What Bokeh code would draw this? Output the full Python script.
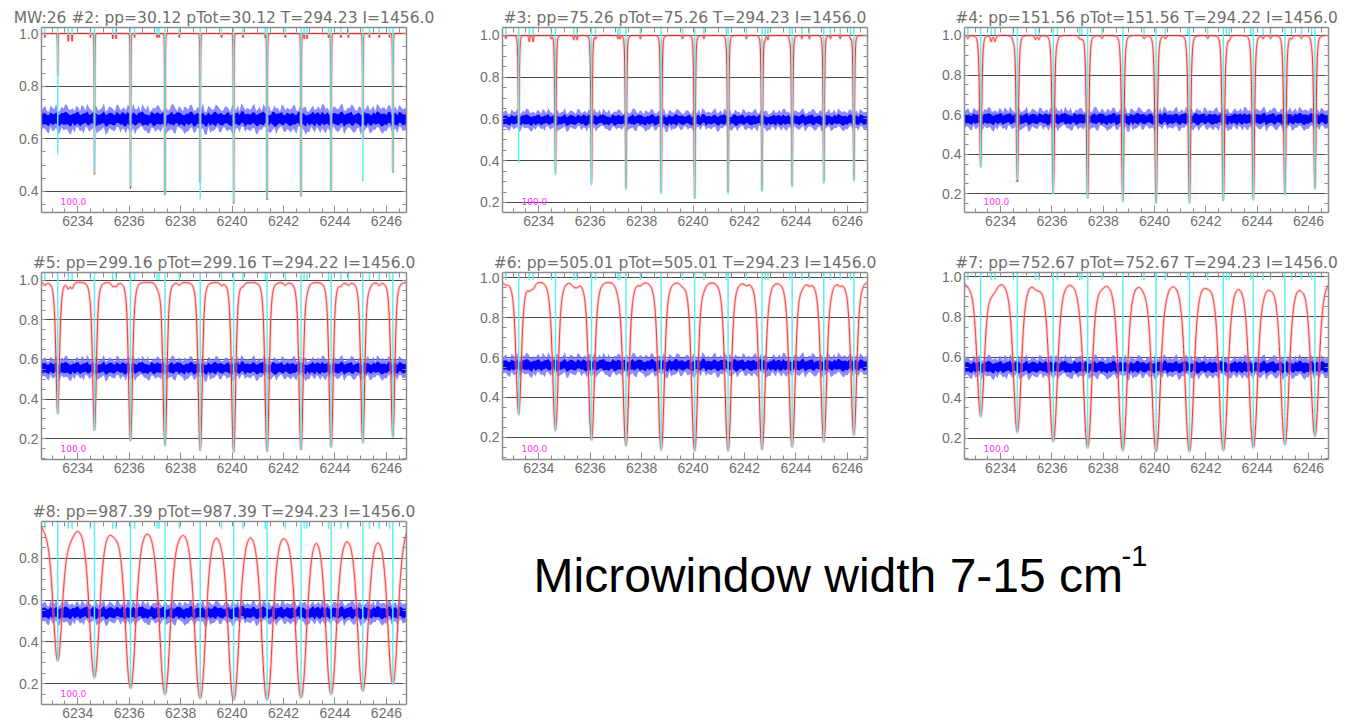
import numpy as np
from bokeh.plotting import figure
from bokeh.models import Range1d, FixedTicker, LinearAxis, Label, Grid, PrintfTickFormatter
from bokeh.layouts import column, row
from bokeh.embed import file_html
from bokeh.resources import INLINE

# ---------------- data ----------------
x_start, x_end = 6232.59, 6246.78
x_tick_values = [6234, 6236, 6238, 6240, 6242, 6244, 6246]
y_tick_values = [0.2, 0.4, 0.6, 0.8, 1.0]

# strong line centres (cm-1)
main_lines = [6233.22, 6234.65, 6236.05, 6237.39, 6238.76, 6240.06,
              6241.36, 6242.68, 6243.85, 6245.08, 6246.25]
# weak line centres (short cyan ticks at the top)
weak_lines = [6232.72, 6233.63, 6233.78, 6234.49, 6235.36, 6235.49, 6236.21,
              6237.08, 6237.16, 6237.95, 6239.59, 6240.42, 6241.29, 6242.07,
              6242.80, 6242.91, 6243.75, 6244.23, 6244.52, 6245.34, 6245.72, 6246.12]
weak_tau = [0.015, 0.03, 0.03, 0.015, 0.02, 0.02, 0.015, 0.015, 0.015, 0.015, 0.015,
            0.015, 0.015, 0.015, 0.02, 0.02, 0.015, 0.015, 0.015, 0.015, 0.015, 0.015]

panel_names = ["MW:26 #2:", "#3:", "#4:", "#5:", "#6:", "#7:", "#8:"]
pp_values = [30.12, 75.26, 151.56, 299.16, 505.01, 752.67, 987.39]
ptot_values = [30.12, 75.26, 151.56, 299.16, 505.01, 752.67, 987.39]
temperatures = [294.23, 294.23, 294.22, 294.22, 294.23, 294.23, 294.23]
intensities = [1456.0, 1456.0, 1456.0, 1456.0, 1456.0, 1456.0, 1456.0]
scale_label = "100.0"

y_lows = [0.32, 0.152, 0.106, 0.094, 0.089, 0.095, 0.101]
y_highs = [1.023, 1.038, 1.04, 1.04, 1.027, 1.02, 0.975]

# model (red) line half widths and continuum per panel
line_halfwidth = [0.014, 0.035, 0.06, 0.10, 0.15, 0.21, 0.27]
continuum = [1.0, 1.0, 1.0, 0.992, 0.985, 0.985, 0.985]

# red model minima at each strong line
red_min_2 = [0.84, 0.465, 0.41, 0.385, 0.43, 0.355, 0.365, 0.38, 0.40, 0.60, 0.47]
red_min_3 = [0.55, 0.34, 0.29, 0.27, 0.25, 0.22, 0.25, 0.26, 0.28, 0.30, 0.31]
red_min_4 = [0.34, 0.26, 0.205, 0.18, 0.165, 0.155, 0.155, 0.165, 0.175, 0.20, 0.23]
red_min_5 = [0.327, 0.242, 0.19, 0.167, 0.141, 0.133, 0.136, 0.145, 0.158, 0.18, 0.208]
red_min_6 = [0.317, 0.237, 0.187, 0.157, 0.137, 0.132, 0.133, 0.14, 0.153, 0.178, 0.212]
red_min_7 = [0.31, 0.23, 0.185, 0.155, 0.14, 0.135, 0.135, 0.14, 0.155, 0.17, 0.21]
red_min_8 = [0.31, 0.23, 0.179, 0.15, 0.131, 0.123, 0.123, 0.134, 0.15, 0.166, 0.198]
red_mins = [red_min_2, red_min_3, red_min_4, red_min_5, red_min_6, red_min_7, red_min_8]

# cyan minima at each strong line
cyan_min_2 = [0.54, 0.47, 0.42, 0.385, 0.37, 0.36, 0.37, 0.38, 0.40, 0.44, 0.47]
cyan_min_3 = [0.39, 0.33, 0.28, 0.26, 0.24, 0.22, 0.24, 0.25, 0.27, 0.29, 0.30]
cyan_min_4 = [0.33, 0.27, 0.20, 0.174, 0.157, 0.149, 0.15, 0.165, 0.165, 0.19, 0.22]
cyan_min_5 = [0.32, 0.24, 0.19, 0.16, 0.14, 0.13, 0.135, 0.145, 0.155, 0.175, 0.205]
cyan_min_6 = [0.31, 0.23, 0.185, 0.155, 0.135, 0.13, 0.13, 0.14, 0.15, 0.175, 0.21]
cyan_min_7 = [0.30, 0.225, 0.18, 0.15, 0.135, 0.13, 0.13, 0.135, 0.15, 0.165, 0.205]
cyan_min_8 = [0.305, 0.225, 0.175, 0.145, 0.128, 0.12, 0.12, 0.13, 0.145, 0.162, 0.195]
cyan_mins = [cyan_min_2, cyan_min_3, cyan_min_4, cyan_min_5, cyan_min_6, cyan_min_7, cyan_min_8]

# measured (blue) band: level and spread per panel
blue_level = [0.675, 0.595, 0.578, 0.556, 0.562, 0.552, 0.539]
blue_spread = [0.06, 0.058, 0.065, 0.068, 0.066, 0.066, 0.066]
# band edge excursions (fraction of spread), read along the band
env_hi = [0.58, 0.83, 0.47, 0.71, 0.95, 0.52, 0.66, 0.88, 0.61, 0.49, 0.77, 0.92, 0.55, 0.69, 0.45, 0.81, 0.63, 1.00, 0.57, 0.74,
          0.50, 0.86, 0.64, 0.53, 0.79, 0.97, 0.60, 0.48, 0.72, 0.89, 0.56, 0.67, 0.84, 0.46, 0.75, 0.62, 0.93, 0.51, 0.70, 0.80,
          0.59, 0.87, 0.54, 0.68, 0.99, 0.47, 0.73, 0.61, 0.85, 0.52, 0.78, 0.65, 0.91, 0.56, 0.48, 0.82, 0.70, 0.58, 0.96, 0.63,
          0.50, 0.76, 0.88, 0.55, 0.67, 0.45, 0.83, 0.72, 0.60, 0.94, 0.53, 0.69, 0.80, 0.49, 0.86, 0.64, 0.57, 0.90, 0.71, 0.46,
          0.79, 0.62, 0.98, 0.54, 0.68, 0.84, 0.51, 0.75, 0.59, 0.92, 0.66, 0.48, 0.81, 0.73, 0.56, 0.87, 0.63, 0.50, 0.77, 0.69]
env_lo = [0.72, 0.51, 0.88, 0.63, 0.46, 0.79, 0.94, 0.57, 0.68, 0.83, 0.49, 0.75, 0.99, 0.60, 0.86, 0.53, 0.70, 0.47, 0.81, 0.64,
          0.92, 0.56, 0.77, 0.89, 0.50, 0.66, 0.84, 0.97, 0.58, 0.45, 0.73, 0.87, 0.61, 0.79, 0.52, 0.95, 0.67, 0.82, 0.48, 0.71,
          0.90, 0.55, 0.76, 0.62, 0.47, 0.85, 0.59, 0.93, 0.69, 0.54, 0.80, 0.46, 0.74, 0.88, 1.00, 0.57, 0.65, 0.83, 0.51, 0.78,
          0.96, 0.60, 0.49, 0.86, 0.70, 0.91, 0.56, 0.64, 0.81, 0.53, 0.89, 0.74, 0.45, 0.68, 0.58, 0.84, 0.95, 0.62, 0.50, 0.77,
          0.66, 0.87, 0.52, 0.73, 0.92, 0.59, 0.80, 0.48, 0.69, 0.55, 0.85, 0.98, 0.63, 0.71, 0.86, 0.54, 0.79, 0.90, 0.61, 0.67]

caption_main = "Microwindow width 7-15 cm"
caption_sup = "-1"

# ---------------- layout constants ----------------
cols = [(41, 365, 54), (42, 365, 55), (42, 364, 22)]
rows_ = [(27, 185, 33), (27, 187, 31), (31, 183, 18)]
positions = [(0, 0), (0, 1), (0, 2), (1, 0), (1, 1), (1, 2), (2, 0)]

GRAY = "#8c8c8c"
TXT = "#6e6e6e"
CYAN = "#5ef0f0"


def profile(dx, g):
    return (1.0 + (dx / g) ** 2) ** -2.0


def model_curve(x, k):
    g = line_halfwidth[k]
    c = np.array(main_lines)
    wc = np.array(weak_lines)
    wt = np.array(weak_tau)
    target = -np.log(np.array(red_mins[k]) / continuum[k])
    weak_at = (wt[None, :] * profile(c[:, None] - wc[None, :], g)).sum(axis=1)
    M = profile(c[:, None] - c[None, :], g)
    tau = np.linalg.solve(M, target - weak_at)
    tau = np.clip(tau, 0.005, None)
    tot = (tau[None, :] * profile(x[:, None] - c[None, :], g)).sum(axis=1)
    tot += (wt[None, :] * profile(x[:, None] - wc[None, :], g)).sum(axis=1)
    return continuum[k] * np.exp(-tot)


def style_axis(ax, major_in, minor_in):
    ax.axis_line_color = GRAY
    ax.axis_line_width = 1.5
    ax.major_tick_line_color = GRAY
    ax.minor_tick_line_color = GRAY
    ax.major_tick_in = major_in
    ax.major_tick_out = 0
    ax.minor_tick_in = minor_in
    ax.minor_tick_out = 0
    ax.major_label_text_font = "Liberation Sans"
    ax.major_label_text_font_size = "14px"
    ax.major_label_text_color = TXT
    ax.major_label_standoff = 3


def make_panel(k):
    r, cidx = positions[k]
    bl, fw, br = cols[cidx]
    bt, fh, bb = rows_[r]
    y0, y1 = y_lows[k], y_highs[k]
    p = figure(width=bl + fw + br, height=bt + fh + bb,
               x_range=Range1d(x_start, x_end), y_range=Range1d(y0, y1),
               output_backend="svg", toolbar_location=None,
               x_axis_type=None, y_axis_type=None,
               min_border_left=bl, min_border_right=br,
               min_border_top=bt, min_border_bottom=bb)
    p.outline_line_color = None
    p.background_fill_color = "white"
    p.border_fill_color = "white"

    x_minor = list(np.arange(6232.5, 6247.01, 0.5))
    y_minor = list(np.arange(0.05, 1.101, 0.05))
    # labelled axes
    ax = LinearAxis(ticker=FixedTicker(ticks=x_tick_values, minor_ticks=x_minor))
    style_axis(ax, 7, 4)
    p.add_layout(ax, "below")
    ay = LinearAxis(ticker=FixedTicker(ticks=y_tick_values, minor_ticks=y_minor),
                    formatter=PrintfTickFormatter(format="%.1f"))
    style_axis(ay, 0, 4)
    p.add_layout(ay, "left")
    # tick-only axes on the top and right
    at = LinearAxis(ticker=FixedTicker(ticks=[], minor_ticks=x_minor))
    style_axis(at, 0, 5)
    at.major_label_standoff = 0
    p.add_layout(at, "above")
    ar = LinearAxis(ticker=FixedTicker(ticks=[], minor_ticks=y_minor))
    style_axis(ar, 0, 4)
    ar.major_label_standoff = 0
    p.add_layout(ar, "right")
    p.add_layout(Grid(dimension=1, ticker=FixedTicker(ticks=y_tick_values),
                      grid_line_color="#4a4a4a", grid_line_width=1))

    # title
    p.title.text = (f"{panel_names[k]} pp={pp_values[k]:.2f} pTot={ptot_values[k]:.2f} "
                    f"T={temperatures[k]:.2f} I={intensities[k]:.1f}")
    p.title.align = "center"
    p.title.text_font = "DejaVu Sans"
    p.title.text_font_size = "15.5px"
    p.title.text_font_style = "normal"
    p.title.text_color = TXT
    p.title.standoff = 2

    # measured spectrum band (blue)
    eh = np.array(env_hi)
    el = np.array(env_lo)
    up_edge = np.ravel(np.column_stack([eh, el]))
    lo_edge = np.ravel(np.column_stack([el[::-1], eh]))
    xb = np.linspace(x_start, x_end, len(up_edge))
    lvl, sp = blue_level[k], blue_spread[k]
    p.varea(x=xb, y1=lvl - sp * lo_edge, y2=lvl + sp * up_edge, fill_color="#6e6eff", fill_alpha=0.8)
    p.varea(x=xb, y1=lvl - 0.5 * sp * up_edge[::-1], y2=lvl + 0.5 * sp * lo_edge[::-1], fill_color="#0000ff")

    # model (red)
    x = np.linspace(x_start, x_end, 6000)
    t = model_curve(x, k)
    p.line(x, t, line_color="#ff9c9c", line_width=3, line_alpha=0.45)
    p.line(x, t, line_color="#f02828", line_width=1)

    # cyan lines
    p.segment(x0=main_lines, y0=[y1] * len(main_lines), x1=main_lines, y1=cyan_mins[k],
              line_color=CYAN, line_width=1.5)
    tick_bottom = y1 - 0.04 * (y1 - y0)
    p.segment(x0=weak_lines, y0=[y1] * len(weak_lines), x1=weak_lines,
              y1=[tick_bottom] * len(weak_lines), line_color=CYAN, line_width=1.5)

    ppu = fh / (y1 - y0)
    p.add_layout(Label(x=6233.33, y=y0 + 11.0 / ppu, text=scale_label, text_font="DejaVu Sans",
                       text_font_size="9px", text_color="#ff30ff", text_baseline="middle"))
    return p


panels = [make_panel(k) for k in range(7)]

# caption panel
tw, th = 890, 232
ptxt = figure(width=tw, height=th, x_range=Range1d(0, tw), y_range=Range1d(0, th),
              output_backend="svg", toolbar_location=None, x_axis_type=None, y_axis_type=None,
              min_border=0, title_location=None)
ptxt.outline_line_color = None
ptxt.xgrid.visible = False
ptxt.ygrid.visible = False
ptxt.add_layout(Label(x=73, y=th - 68, text=caption_main, text_font="Liberation Sans",
                      text_font_size="48px", text_color="black", text_baseline="alphabetic"))
ptxt.add_layout(Label(x=661, y=th - 31, text=caption_sup, text_font="Liberation Sans",
                      text_font_size="29px", text_color="black", text_baseline="top"))

layout = column(row(panels[0], panels[1], panels[2]),
                row(panels[3], panels[4], panels[5]),
                row(panels[6], ptxt))

open("out.html", "w").write(file_html(layout, INLINE, "Microwindow"))
